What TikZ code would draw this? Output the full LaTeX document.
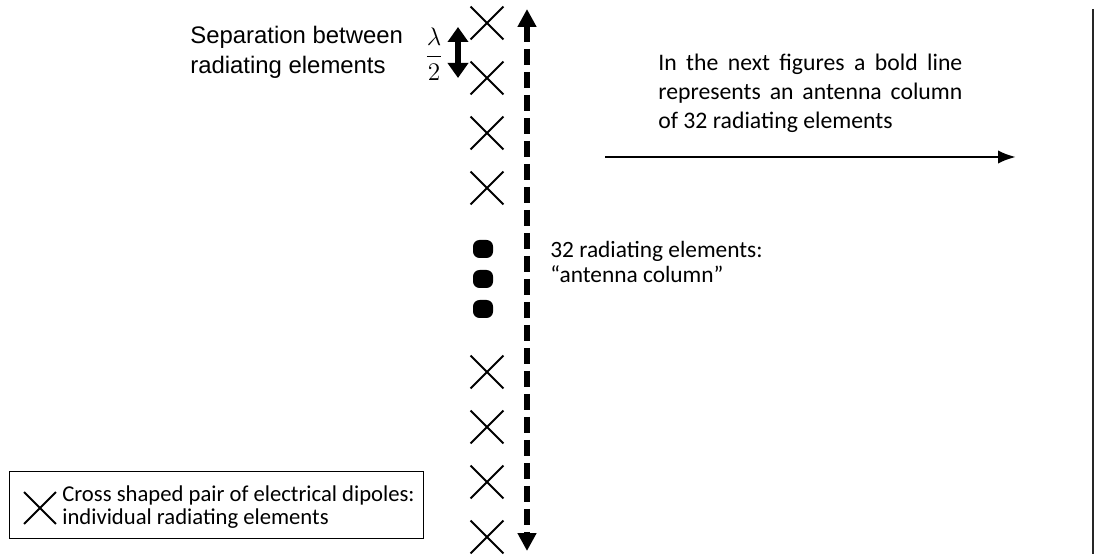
\documentclass[tikz,border=0pt]{standalone}
\usepackage{amsmath}
\usepackage{fontspec}
\setmainfont{Carlito}
\newfontfamily\arialfont{Liberation Sans}
\usetikzlibrary{arrows.meta,positioning,shapes.misc}

\begin{document}
\begin{tikzpicture}[>=Latex,
    elem/.style={draw,cross out,line width=1.1pt,minimum size=0.62cm,inner sep=0pt},
    dot/.style={fill=black,rounded corners=0.13cm,minimum width=0.4cm,minimum height=0.36cm,inner sep=0pt},
    txt/.style={align=left,inner sep=0pt,font=\fontsize{13.3}{14.5}\selectfont}]
    \useasboundingbox (0,0) rectangle (21.88,11.08);
    % column of radiating elements
    \node[elem] (e1) at (9.74,10.62) {};
    \node[elem] (e2) at (9.74,9.52) {};
    \node[elem] (e3) at (9.74,8.42) {};
    \node[elem] (e4) at (9.74,7.32) {};
    \node[dot] (d1) at (9.66,6.1) {};
    \node[dot] (d2) at (9.66,5.5) {};
    \node[dot] (d3) at (9.66,4.9) {};
    \node[elem] (e5) at (9.74,3.64) {};
    \node[elem] (e6) at (9.74,2.54) {};
    \node[elem] (e7) at (9.74,1.44) {};
    \node[elem] (e8) at (9.74,0.34) {};
    \coordinate (ctop) at (10.54,10.9);
    \coordinate (cbot) at (10.54,0.06);
    \draw[line width=0.13cm,dash pattern=on 0.32cm off 0.14cm,
      {Triangle[length=0.36cm,width=0.36cm]}-{Triangle[length=0.36cm,width=0.36cm]}] (ctop) -- (cbot);
    % spacing lambda/2
    \coordinate (stop) at (9.16,10.54);
    \coordinate (sbot) at (9.16,9.52);
    \draw[line width=0.13cm,{Triangle[length=0.3cm,width=0.4cm]}-{Triangle[length=0.3cm,width=0.4cm]}] (stop) -- (sbot);
    \node (half) at (8.68,10.0) {\fontsize{15.5}{18}\selectfont$\dfrac{\lambda}{2}$};
    \node[txt,font=\arialfont\fontsize{13.6}{17}\selectfont,anchor=west] (sep) at (3.8,10.03) {Separation between\\radiating elements};
    \node[txt,anchor=west] (col) at (11.0,5.84) {32 radiating elements:\\``antenna column''};
    % bold line legend
    \node[txt,align=justify,text width=6.08cm,anchor=west,font=\fontsize{13.5}{16.5}\selectfont] (next) at (13.16,9.22)
      {\hyphenpenalty=10000 In the next figures a bold line\linebreak represents an antenna column\linebreak of 32 radiating elements};
    \coordinate (la) at (12.1,7.94);
    \coordinate (lb) at (20.32,7.94);
    \draw[->,line width=1.6pt] (la) -- (lb);
    % legend box
    \node[draw,line width=0.7pt,minimum width=8.28cm,minimum height=1.34cm,anchor=south west] (leg) at (0.18,0.3) {};
    \node[elem,minimum size=0.6cm] (legx) at (0.8,0.92) {};
    \node[txt,anchor=west,font=\fontsize{12.9}{13.5}\selectfont] (legt) at (1.24,0.94) {Cross shaped pair of electrical dipoles:\\individual radiating elements};
    \coordinate (vt) at (21.86,10.9);
    \coordinate (vb) at (21.86,0);
    \draw[line width=1pt,black!85] (vt) -- (vb);
\end{tikzpicture}
\end{document}
